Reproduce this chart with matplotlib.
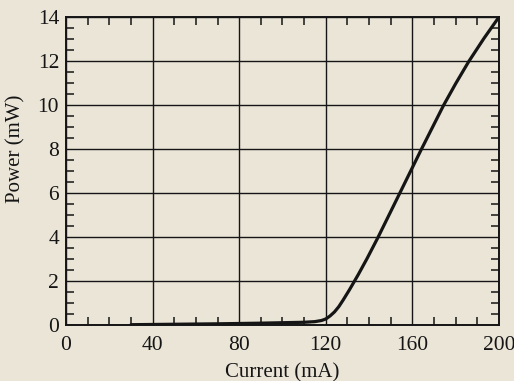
import matplotlib
matplotlib.use("Agg")
import matplotlib.pyplot as plt
from matplotlib.ticker import MultipleLocator

# laser diode L-I curve
current = [30, 50, 70, 90, 105, 110, 115, 118, 120, 122, 124, 126, 128, 131,
           135, 139, 144, 149, 154, 164, 174.5, 180, 186, 193, 200]
power = [0.0, 0.02, 0.04, 0.07, 0.10, 0.11, 0.14, 0.19, 0.26, 0.40, 0.58,
         0.82, 1.12, 1.60, 2.28, 3.0, 3.95, 4.95, 5.95, 7.95, 10.0, 10.97,
         11.97, 13.02, 14.0]

x_ticks = [0, 40, 80, 120, 160, 200]
y_ticks = [0, 2, 4, 6, 8, 10, 12, 14]

bg = "#ebe5d8"
ink = "#151515"

plt.rcParams["font.family"] = ["Liberation Serif", "DejaVu Serif"]

fig = plt.figure(figsize=(5.14, 3.81), dpi=100, facecolor=bg)
ax = fig.add_axes([0.1284, 0.1478, 0.8424, 0.8076])
ax.set_facecolor(bg)

ax.plot(current, power, color=ink, lw=2.3, solid_capstyle="round",
        solid_joinstyle="round")

ax.set_xlim(0, 200)
ax.set_ylim(0, 14)
ax.set_xticks(x_ticks)
ax.set_yticks(y_ticks)
ax.xaxis.set_minor_locator(MultipleLocator(10))
ax.yaxis.set_minor_locator(MultipleLocator(0.5))

ax.grid(True, which="major", color=ink, lw=1.0)
for s in ax.spines.values():
    s.set_color(ink)
    s.set_linewidth(1.4)

ax.tick_params(which="major", length=0, labelsize=15.5, colors=ink)
ax.tick_params(axis="x", which="major", pad=8)
ax.tick_params(axis="y", which="major", pad=5)
ax.tick_params(which="minor", direction="in", length=6, width=1.1,
               color=ink, top=True, right=True)

ax.set_xlabel("Current (mA)", fontsize=15, color=ink)
ax.set_ylabel("Power (mW)", fontsize=15, color=ink)
ax.xaxis.set_label_coords(0.5, -0.125)
ax.yaxis.set_label_coords(-0.093, 0.57)

fig.savefig("out.png", dpi=100, facecolor=bg)
